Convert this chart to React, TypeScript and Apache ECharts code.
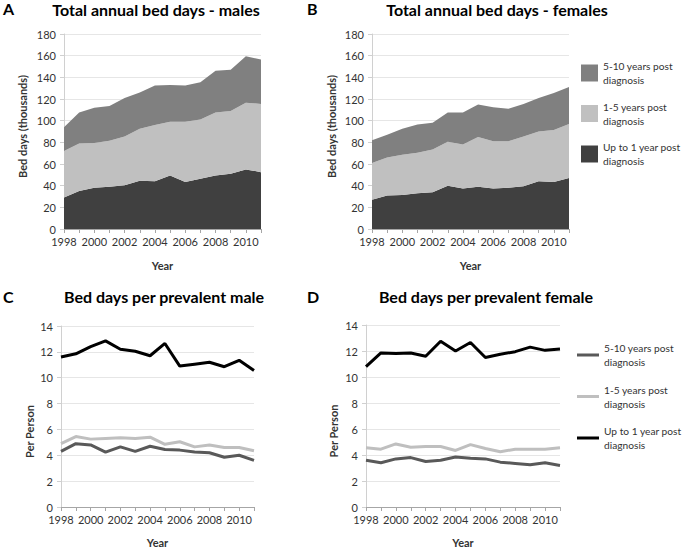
import React, { useEffect, useRef } from "react";
import * as echarts from "echarts";

const years = ["1998","1999","2000","2001","2002","2003","2004","2005","2006","2007","2008","2009","2010","2011"];
const seriesNames = ["Up to 1 year post\ndiagnosis", "1-5 years post\ndiagnosis", "5-10 years post\ndiagnosis"];

// Panel A: total annual bed days, males (thousands), per band
const maleUpTo1 = [29, 35, 38, 39, 40.5, 44.5, 44, 49.5, 43.5, 46.5, 49.5, 51, 55, 52.5];
const male1to5 = [43, 44, 41.5, 42.5, 45, 48, 52, 49.5, 55.5, 54.5, 58, 58, 61.5, 63];
const male5to10 = [22, 28.5, 32.5, 32, 35.5, 33.5, 36.5, 34, 33.5, 34.5, 38.5, 38, 43, 41];

// Panel B: total annual bed days, females (thousands), per band
const femaleUpTo1 = [27, 31, 31.5, 33, 34, 40, 37.5, 39, 37.5, 38, 39.5, 44, 43.5, 47];
const female1to5 = [34, 35, 37, 37.5, 39.5, 40.5, 40.5, 46, 43.5, 43, 46, 46, 48, 50];
const female5to10 = [21, 21, 24, 26, 24.5, 27, 29.5, 30, 31.5, 30, 30, 31, 34, 34];

// Panel C: bed days per prevalent male
const perMaleUpTo1 = [11.6, 11.85, 12.4, 12.85, 12.2, 12.05, 11.7, 12.65, 10.9, 11.05, 11.2, 10.85, 11.35, 10.55];
const perMale1to5 = [4.9, 5.45, 5.25, 5.3, 5.35, 5.3, 5.4, 4.85, 5.05, 4.65, 4.8, 4.6, 4.6, 4.35];
const perMale5to10 = [4.3, 4.9, 4.8, 4.25, 4.65, 4.3, 4.7, 4.45, 4.4, 4.25, 4.2, 3.85, 4.0, 3.6];

// Panel D: bed days per prevalent female
const perFemaleUpTo1 = [10.8, 11.85, 11.8, 11.85, 11.6, 12.75, 12.0, 12.65, 11.5, 11.75, 11.95, 12.3, 12.05, 12.15];
const perFemale1to5 = [4.55, 4.45, 4.85, 4.6, 4.65, 4.65, 4.35, 4.8, 4.5, 4.25, 4.45, 4.45, 4.45, 4.55];
const perFemale5to10 = [3.6, 3.4, 3.7, 3.8, 3.5, 3.6, 3.85, 3.75, 3.7, 3.45, 3.35, 3.25, 3.4, 3.2];

const titles = ["Total annual bed days - males", "Total annual bed days - females", "Bed days per prevalent male", "Bed days per prevalent female"];
const panelLetters = ["A", "B", "C", "D"];

const FONT = "Lato, 'Open Sans', sans-serif";
const areaColors = ["#404040", "#c0c0c0", "#808080"];
const lineColors = ["#000000", "#bfbfbf", "#595959"];

export default function App() {
  const ref = useRef<HTMLDivElement>(null);
  useEffect(() => {
    document.body.style.margin = "0";
    const chart = echarts.init(ref.current!, null, { renderer: "svg" });

    const grids = [
      { left: 64, top: 34, width: 197, height: 195 },
      { left: 372, top: 34, width: 197, height: 195 },
      { left: 61, top: 326, width: 193, height: 183 },
      { left: 366, top: 325, width: 194, height: 184 },
    ];
    const yNameGaps = [36, 35, 26, 27];
    const yNamePads = [[0, 0, 0, 10], [0, 0, 0, 10], [0, 30, 0, 0], [0, 30, 0, 0]];
    const xNameGaps = [31, 31, 30, 30];

    const xAxes = grids.map((_, i) => ({
      type: "category",
      gridIndex: i,
      data: years,
      boundaryGap: false,
      name: "Year",
      nameLocation: "middle",
      nameGap: xNameGaps[i],
      nameTextStyle: { fontFamily: FONT, fontWeight: "bold", fontSize: 11, color: "#333" },
      axisLine: { show: true, lineStyle: { color: "#a6a6a6", width: 1 } },
      axisTick: { show: true, interval: 0, length: 4, lineStyle: { color: "#a6a6a6" } },
      axisLabel: { interval: 1, margin: 7, fontFamily: FONT, fontSize: 11, color: "#333" },
      splitLine: { show: false },
    }));

    const yAxes = grids.map((_, i) => ({
      type: "value",
      gridIndex: i,
      min: 0,
      max: i < 2 ? 180 : 14,
      interval: i < 2 ? 20 : 2,
      name: i < 2 ? "Bed days (thousands)" : "Per Person",
      nameLocation: "middle",
      nameGap: yNameGaps[i],
      nameTextStyle: { fontFamily: FONT, fontWeight: "bold", fontSize: 11, color: "#333", padding: yNamePads[i] },
      axisLine: { show: true, lineStyle: { color: "#d0d0d0", width: 1 } },
      axisTick: { show: true, length: 4, lineStyle: { color: "#d0d0d0" } },
      axisLabel: { margin: 8, fontFamily: FONT, fontSize: 11, color: "#333" },
      splitLine: { show: true, lineStyle: { color: "#e6e6e6", width: 1 } },
    }));

    const areaSets = [
      [maleUpTo1, male1to5, male5to10],
      [femaleUpTo1, female1to5, female5to10],
    ];
    const lineSets = [
      [perMaleUpTo1, perMale1to5, perMale5to10],
      [perFemaleUpTo1, perFemale1to5, perFemale5to10],
    ];

    const series: any[] = [];
    areaSets.forEach((set, p) => {
      set.forEach((vals, k) => {
        series.push({
          type: "line",
          name: seriesNames[k],
          xAxisIndex: p,
          yAxisIndex: p,
          stack: "total" + p,
          data: vals,
          symbol: "none",
          lineStyle: { width: 0 },
          itemStyle: { color: areaColors[k] },
          areaStyle: { color: areaColors[k], opacity: 1 },
          z: 2,
        });
      });
    });
    lineSets.forEach((set, p) => {
      [2, 1, 0].forEach((k) => {
        series.push({
          type: "line",
          name: seriesNames[k],
          xAxisIndex: p + 2,
          yAxisIndex: p + 2,
          data: set[k],
          symbol: "none",
          lineStyle: { width: 3, color: lineColors[k] },
          itemStyle: { color: lineColors[k] },
          z: 3 + (2 - k),
        });
      });
    });

    const legendOrder = [2, 1, 0];

    const titleCenters = [
      [156, 9], [497, 9], [164, 296], [486, 296],
    ];
    const letterPos = [
      [3, 8], [307, 8], [3, 296], [307, 296],
    ];

    const graphic: any[] = [];
    titles.forEach((t, i) => {
      graphic.push({
        type: "text",
        x: titleCenters[i][0],
        y: titleCenters[i][1],
        style: {
          text: t,
          fontFamily: FONT,
          fontWeight: "bold",
          fontSize: 16,
          fill: "#000",
          textAlign: "center",
          textVerticalAlign: "middle",
        },
      });
    });
    panelLetters.forEach((l, i) => {
      graphic.push({
        type: "text",
        x: letterPos[i][0],
        y: letterPos[i][1],
        style: {
          text: l,
          fontFamily: FONT,
          fontWeight: "bold",
          fontSize: 16,
          fill: "#000",
          textAlign: "left",
          textVerticalAlign: "middle",
        },
      });
    });

    const legendText = { fontFamily: FONT, fontSize: 10.2, lineHeight: 14, color: "#333" };

    chart.setOption({
      animation: false,
      textStyle: { fontFamily: FONT },
      grid: grids,
      xAxis: xAxes,
      yAxis: yAxes,
      series,
      graphic,
      legend: [
        {
          orient: "vertical",
          left: 581,
          top: 59,
          padding: 0,
          itemGap: 12.5,
          itemWidth: 17,
          itemHeight: 17,
          icon: "rect",
          selectedMode: false,
          textStyle: legendText,
          data: legendOrder.map((k) => ({
            name: seriesNames[k],
            icon: "rect",
            itemStyle: { color: areaColors[k], borderWidth: 0 },
          })),
        },
        {
          orient: "vertical",
          left: 577,
          top: 341,
          padding: 0,
          itemGap: 13.5,
          itemWidth: 22,
          itemHeight: 3,
          icon: "rect",
          selectedMode: false,
          textStyle: legendText,
          data: legendOrder.map((k) => ({
            name: seriesNames[k],
            icon: "rect",
            itemStyle: { color: lineColors[k], borderWidth: 0 },
          })),
        },
      ],
    });
    return () => chart.dispose();
  }, []);
  return <div ref={ref} style={{ width: 685, height: 549 }} />;
}
